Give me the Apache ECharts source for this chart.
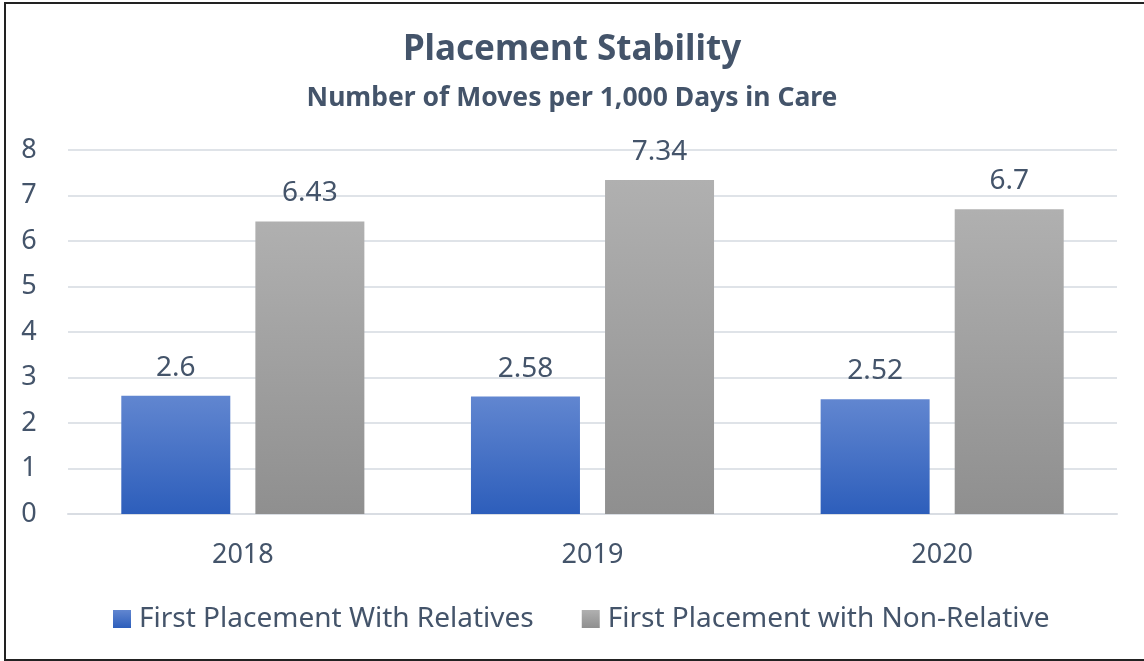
<!DOCTYPE html>
<html>
<head>
<meta charset="utf-8">
<script src="https://cdn.jsdelivr.net/npm/echarts@6/dist/echarts.min.js"></script>
<style>
  html, body { margin: 0; padding: 0; background: #fff; overflow: hidden; width: 1144px; height: 661px; }
  #frame { position: absolute; left: 4px; top: 2px; width: 1160px; height: 659px; border: 2px solid #222; box-sizing: border-box; }
  #chart { position: absolute; left: 0; top: 0; width: 1144px; height: 661px; }
</style>
</head>
<body>
<div id="frame"></div>
<div id="chart"></div>
<script>
  var years = ['2018', '2019', '2020'];
  var withRelatives = [2.6, 2.58, 2.52];
  var nonRelative = [6.43, 7.34, 6.7];
  var seriesNames = ['First Placement With Relatives', 'First Placement with Non-Relative'];

  var textColor = '#44546a';
  var font = 'Noto Sans';

  function grad(top, bottom) {
    return new echarts.graphic.LinearGradient(0, 0, 0, 1, [
      { offset: 0, color: top },
      { offset: 1, color: bottom }
    ]);
  }

  var labelStyle = {
    show: true,
    position: 'top',
    distance: 14,
    color: textColor,
    fontFamily: font,
    fontSize: 28
  };

  var option = {
    animation: false,
    title: [
      {
        text: 'Placement Stability',
        left: 'center',
        top: 28,
        textStyle: { color: textColor, fontFamily: font, fontWeight: 'bold', fontSize: 35 }
      },
      {
        text: 'Number of Moves per 1,000 Days in Care',
        left: 'center',
        top: 80,
        textStyle: { color: textColor, fontFamily: font, fontWeight: 'bold', fontSize: 26.5 }
      }
    ],
    legend: {
      top: 600,
      left: 108,
      itemWidth: 18,
      itemHeight: 18,
      itemGap: 48,
      icon: 'rect',
      textStyle: { color: textColor, fontFamily: font, fontSize: 28, padding: [0, 0, 0, 3] },
      data: seriesNames
    },
    grid: { left: 68, right: 27, top: 150, bottom: 147 },
    xAxis: {
      type: 'category',
      data: years,
      axisLine: { lineStyle: { color: '#d9dde3', width: 2 } },
      axisTick: { show: false },
      axisLabel: { color: textColor, fontFamily: font, fontSize: 27, margin: 28 }
    },
    yAxis: {
      type: 'value',
      min: 0,
      max: 8,
      interval: 1,
      axisLine: { show: false },
      axisTick: { show: false },
      splitLine: { lineStyle: { color: '#dfe3e8', width: 2 } },
      axisLabel: { color: textColor, fontFamily: font, fontSize: 27, margin: 39, align: 'center' }
    },
    series: [
      {
        name: seriesNames[0],
        type: 'bar',
        data: withRelatives,
        barWidth: 109,
        barGap: '23%',
        itemStyle: { color: grad('#6186d0', '#2d5ebb') },
        label: labelStyle
      },
      {
        name: seriesNames[1],
        type: 'bar',
        data: nonRelative,
        barWidth: 109,
        itemStyle: { color: grad('#b0b0b0', '#8f8f8f') },
        label: labelStyle
      }
    ]
  };

  var myChart = echarts.init(document.getElementById('chart'));
  myChart.setOption(option);
</script>
</body>
</html>
